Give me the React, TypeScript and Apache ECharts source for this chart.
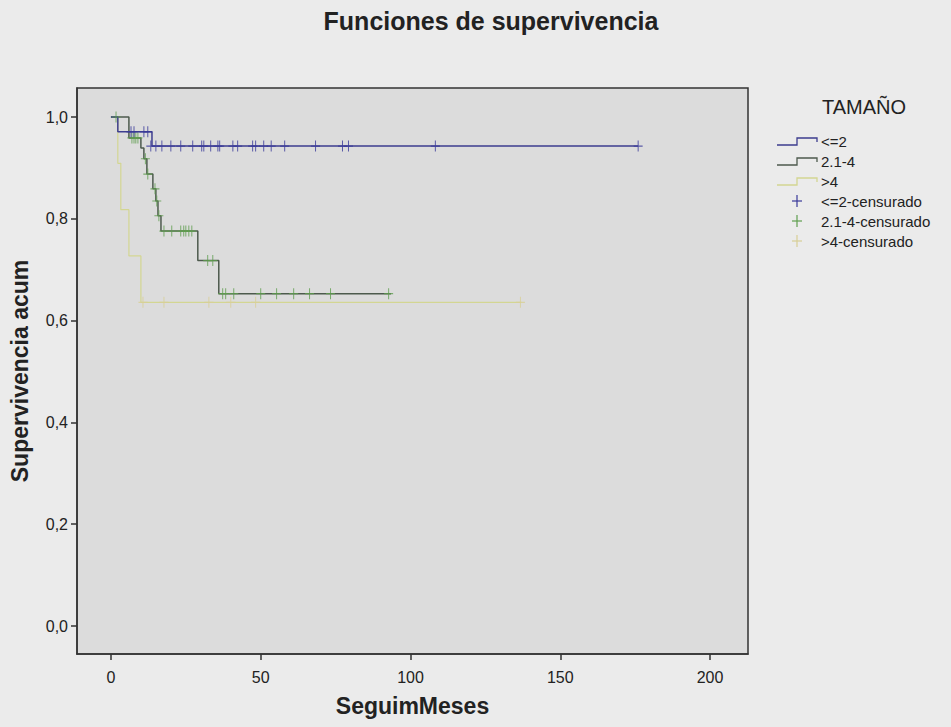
import { useEffect, useRef } from "react";
import * as echarts from "echarts";

// ---- data ----
const xTicks = [0, 50, 100, 150, 200];
const yTicks = [0, 0.2, 0.4, 0.6, 0.8, 1.0];

const groupNames = ["<=2", "2.1-4", ">4"];
const censorNames = ["<=2-censurado", "2.1-4-censurado", ">4-censurado"];

// Kaplan-Meier step points [months, cumulative survival]
const curveSmall = [
  [0, 1], [2.3, 0.971], [13.7, 0.943], [176, 0.943],
];
const curveMid = [
  [0, 1], [6, 0.959], [10, 0.939], [11, 0.918], [12, 0.888], [14, 0.859],
  [15, 0.835], [15.7, 0.806], [16.7, 0.776], [29, 0.718], [36, 0.653], [93.5, 0.653],
];
const curveLarge = [
  [0, 1], [2.3, 0.909], [3.3, 0.818], [6, 0.727], [10, 0.636], [137, 0.636],
];

// censored observations [months, survival]
const censorSmall = [
  [6.7, 0.971], [7.7, 0.971], [11, 0.971], [12.3, 0.971],
  [13.3, 0.943], [15, 0.943], [17, 0.943], [20, 0.943], [23.3, 0.943], [27.3, 0.943],
  [30.3, 0.943], [31, 0.943], [33.3, 0.943], [35.7, 0.943], [36.3, 0.943], [40.7, 0.943],
  [42.3, 0.943], [47.3, 0.943], [48.3, 0.943], [51, 0.943], [53.5, 0.943], [58, 0.943],
  [68.3, 0.943], [77.3, 0.943], [79.3, 0.943], [108.3, 0.943], [176, 0.943],
];
const censorMid = [
  [1.7, 1], [7, 0.959], [7.7, 0.959], [8.3, 0.959], [9, 0.959],
  [11.5, 0.918], [12.3, 0.888], [14.7, 0.859], [15.3, 0.835], [16, 0.806],
  [17.7, 0.776], [20.3, 0.776], [23.3, 0.776], [24.3, 0.776], [25, 0.776], [26, 0.776], [27, 0.776],
  [32.3, 0.718], [34, 0.718],
  [37.3, 0.653], [38.3, 0.653], [41, 0.653], [50, 0.653], [55.3, 0.653], [61, 0.653],
  [66.3, 0.653], [73.3, 0.653], [92.7, 0.653],
];
const censorLarge = [
  [10.7, 0.636], [17.7, 0.636], [32.7, 0.636], [40, 0.636], [48.3, 0.636], [136.7, 0.636],
];

const lineColors = ["#3d3d8f", "#4d5a4d", "#d3d692"];
const censorColors = ["#3a3a9a", "#5f9e4f", "#d8cf96"];
const FONT = "'Liberation Sans', Arial, sans-serif";
const PLUS = "path://M4,0H5V4H9V5H5V9H4V5H0V4H4Z";

export default function App() {
  const ref = useRef<HTMLDivElement>(null);
  useEffect(() => {
    if (!ref.current) return;
    const chart = echarts.init(ref.current, null, { renderer: "svg" });
    const curves = [curveSmall, curveMid, curveLarge];
    const censors = [censorSmall, censorMid, censorLarge];

    const legendX = 777;
    const legendY0 = 141;
    const legendStep = 20;
    const legendGraphics: any[] = [
      {
        type: "text",
        x: 491,
        y: 21,
        style: {
          text: "Funciones de supervivencia",
          font: `bold 25px ${FONT}`,
          fill: "#222",
          textAlign: "center",
          textVerticalAlign: "middle",
        },
      },
      {
        type: "text",
        x: 822,
        y: 107,
        style: { text: "TAMAÑO", font: `20px ${FONT}`, fill: "#222", textVerticalAlign: "middle" },
      },
    ];
    groupNames.forEach((name, i) => {
      const y = legendY0 + i * legendStep;
      legendGraphics.push({
        type: "polyline",
        shape: {
          points: [
            [legendX, y + 4], [legendX + 20, y + 4], [legendX + 20, y - 3],
            [legendX + 40, y - 3], [legendX + 40, y + 1],
          ],
        },
        style: { stroke: lineColors[i], lineWidth: 1.3, fill: null },
      });
      legendGraphics.push({
        type: "text",
        x: legendX + 44,
        y: y,
        style: { text: name, font: `15px ${FONT}`, fill: "#222", textVerticalAlign: "middle" },
      });
    });
    censorNames.forEach((name, i) => {
      const y = legendY0 + (i + 3) * legendStep;
      legendGraphics.push({
        type: "line",
        shape: { x1: legendX + 20, y1: y - 6, x2: legendX + 20, y2: y + 6 },
        style: { stroke: censorColors[i], lineWidth: 1.2 },
      });
      legendGraphics.push({
        type: "line",
        shape: { x1: legendX + 15, y1: y, x2: legendX + 25, y2: y },
        style: { stroke: censorColors[i], lineWidth: 1.2 },
      });
      legendGraphics.push({
        type: "text",
        x: legendX + 44,
        y: y,
        style: { text: name, font: `15px ${FONT}`, fill: "#222", textVerticalAlign: "middle" },
      });
    });

    const series: any[] = [];
    curves.forEach((c, i) => {
      series.push({
        name: groupNames[i],
        type: "line",
        step: "end",
        data: c,
        showSymbol: false,
        symbol: "none",
        lineStyle: { color: lineColors[i], width: i === 2 ? 1.2 : 1.5 },
        z: 3 - i,
      });
    });
    censors.forEach((c, i) => {
      series.push({
        name: censorNames[i],
        type: "scatter",
        data: c,
        symbol: PLUS,
        symbolSize: [9, 11],
        itemStyle: { color: censorColors[i] },
        z: 6 - i,
      });
    });

    chart.setOption({
      animation: false,
      backgroundColor: "#ebebeb",
      textStyle: { fontFamily: FONT },
      graphic: legendGraphics,
      grid: {
        left: 76,
        top: 88,
        width: 672,
        height: 566,
        show: true,
        backgroundColor: "#dcdcdc",
        borderColor: "#333",
        borderWidth: 1.5,
      },
      xAxis: {
        type: "value",
        min: -11.33,
        max: 212.67,
        name: "SeguimMeses",
        nameLocation: "middle",
        nameGap: 40,
        nameTextStyle: { fontSize: 23, fontWeight: "bold", color: "#222", fontFamily: FONT },
        splitLine: { show: false },
        axisLine: { show: true, onZero: false, lineStyle: { color: "#333", width: 1.5 } },
        axisTick: { show: true, length: 6, customValues: xTicks, lineStyle: { color: "#333", width: 1.5 } },
        axisLabel: { customValues: xTicks, fontSize: 16, color: "#222", margin: 15 },
      },
      yAxis: {
        type: "value",
        min: -0.055,
        max: 1.057,
        name: "Supervivencia acum",
        nameLocation: "middle",
        nameGap: 46,
        nameTextStyle: { fontSize: 23, fontWeight: "bold", color: "#222", fontFamily: FONT },
        splitLine: { show: false },
        axisLine: { show: true, onZero: false, lineStyle: { color: "#333", width: 1.5 } },
        axisTick: { show: true, length: 6, customValues: yTicks, lineStyle: { color: "#333", width: 1.5 } },
        axisLabel: {
          customValues: yTicks,
          fontSize: 16,
          color: "#222",
          margin: 9,
          formatter: (v: number) => v.toFixed(1).replace(".", ","),
        },
      },
      series,
    });
    return () => chart.dispose();
  }, []);
  return (
    <div
      ref={ref}
      style={{ position: "fixed", left: 0, top: 0, width: 951, height: 727 }}
    />
  );
}
